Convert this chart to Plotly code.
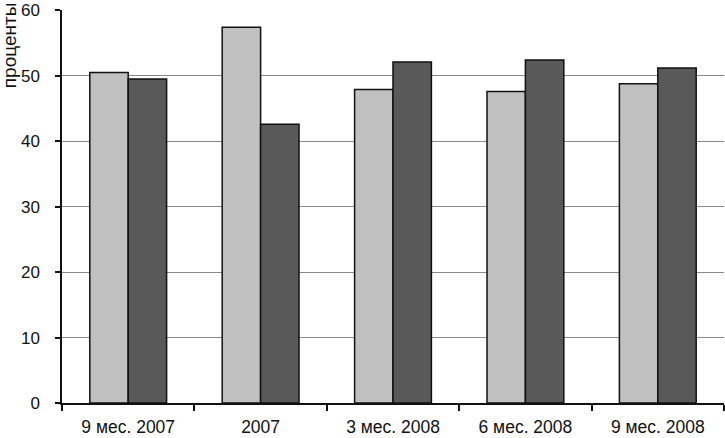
import plotly.graph_objects as go

categories = ["9 мес. 2007", "2007", "3 мес. 2008", "6 мес. 2008", "9 мес. 2008"]
series_light = [50.5, 57.4, 47.9, 47.6, 48.8]
series_dark = [49.5, 42.6, 52.1, 52.4, 51.2]
y_ticks = [0, 10, 20, 30, 40, 50, 60]
y_title = "проценты"

font_family = "Liberation Sans, Arial, sans-serif"

fig = go.Figure()
fig.add_trace(go.Bar(x=categories, y=series_light, marker=dict(color="#c0c0c0", line=dict(color="#111111", width=1.5)), showlegend=False))
fig.add_trace(go.Bar(x=categories, y=series_dark, marker=dict(color="#595959", line=dict(color="#111111", width=1.5)), showlegend=False))

fig.update_layout(
    width=725, height=438,
    margin=dict(l=62, r=1, t=10, b=35),
    paper_bgcolor="white", plot_bgcolor="white",
    barmode="group", bargap=0.42, bargroupgap=0,
    font=dict(family=font_family, size=17, color="#111111"),
    xaxis=dict(
        type="category", showline=True, linecolor="#111111", linewidth=1.5,
        ticks="outside", tickson="boundaries", ticklen=6, tickcolor="#111111", tickwidth=1.5,
        ticklabelstandoff=7, showgrid=False, tickfont=dict(size=17.5), automargin=False,
        ticklabeloverflow="allow",
    ),
    yaxis=dict(
        range=[0, 60.05], tickvals=y_ticks, showline=True, linecolor="#111111", linewidth=1.5,
        ticks="outside", ticklen=5, tickcolor="#111111", tickwidth=1.5,
        ticklabelstandoff=12, showgrid=True, gridcolor="#8a8a8a", gridwidth=1,
        zeroline=False, tickfont=dict(size=17), ticklabeloverflow="allow", automargin=False,
    ),
    annotations=[dict(
        text=y_title, textangle=-90, xref="paper", yref="paper",
        x=-0.080, y=1.025, xanchor="center", yanchor="top", showarrow=False,
        font=dict(size=19, family=font_family, color="#111111"),
    )],
)

fig.write_html(
    "out.html",
    config={"displayModeBar": False},
    post_script="document.body.style.margin='0';document.body.style.overflow='hidden';",
)
